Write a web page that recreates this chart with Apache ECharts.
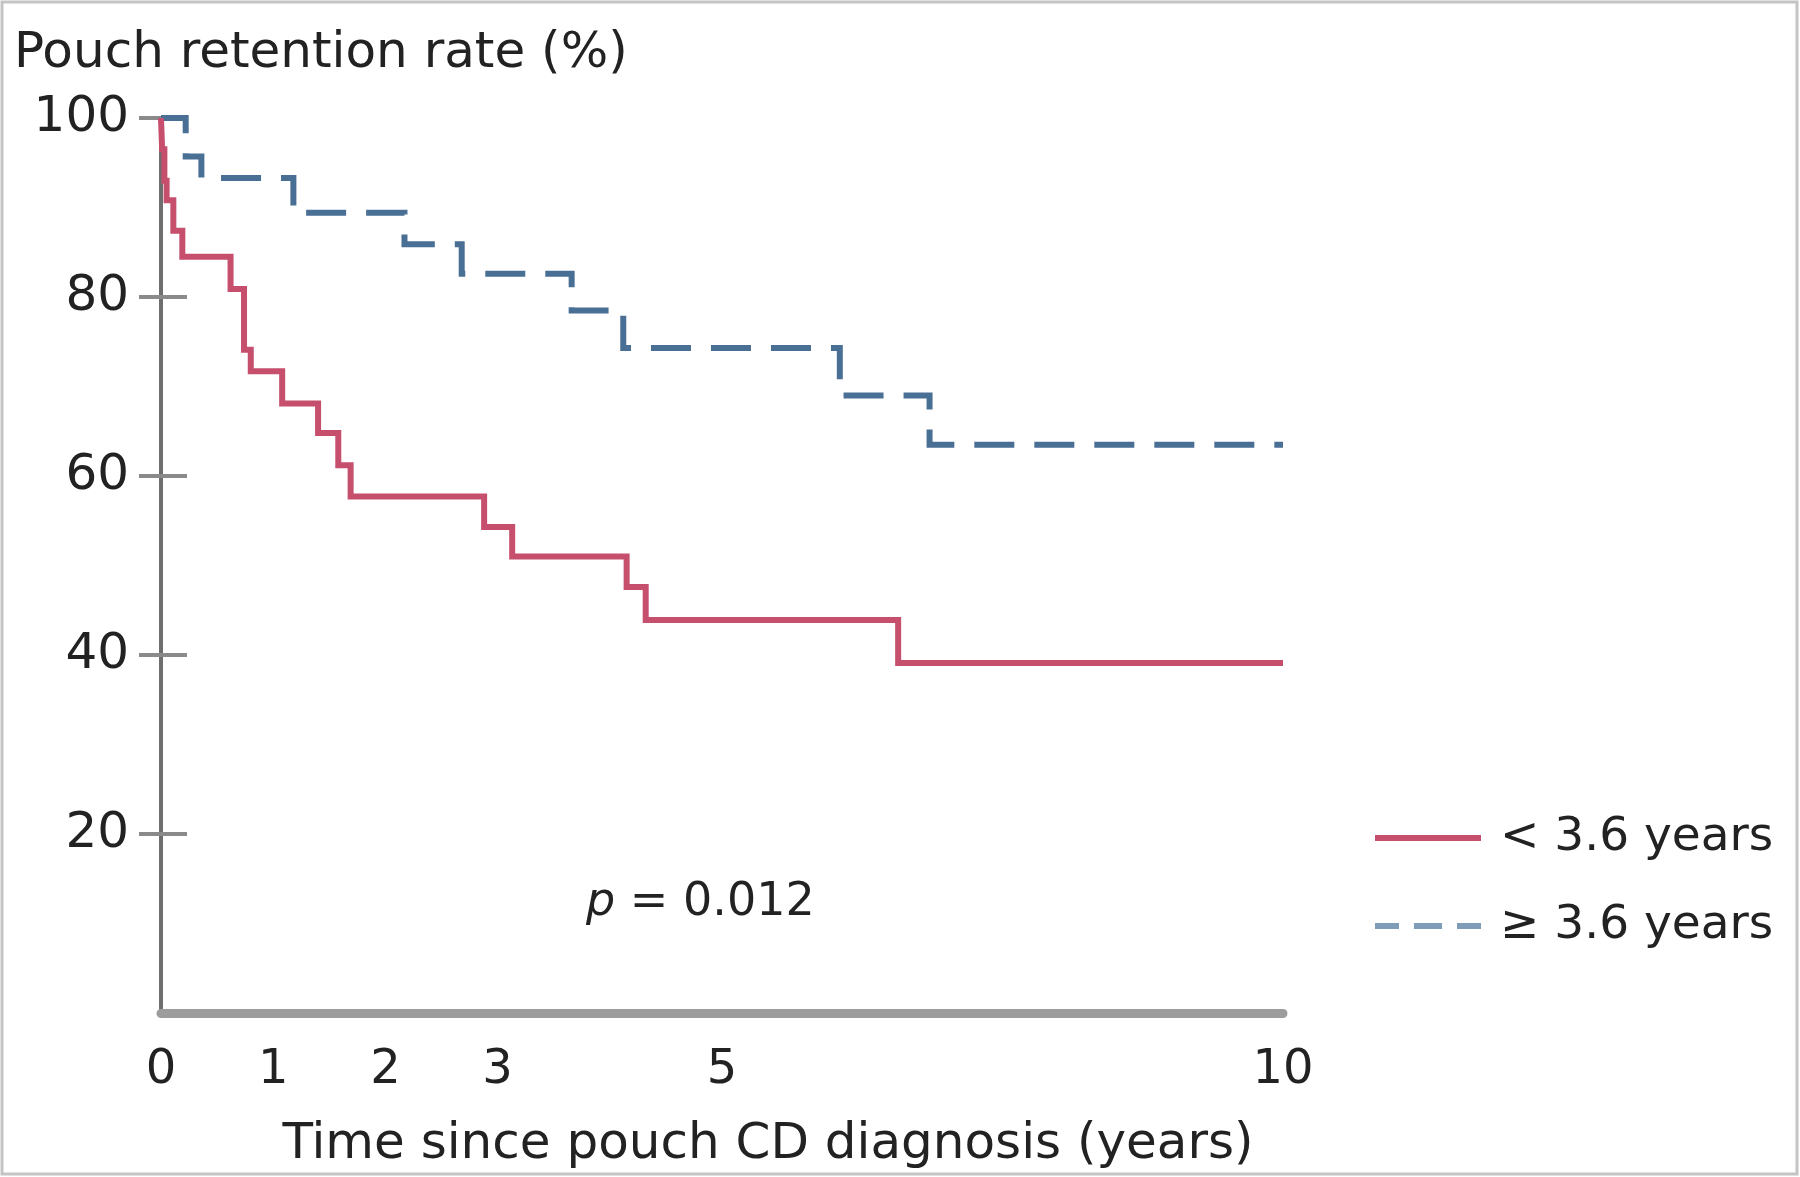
<!DOCTYPE html>
<html>
<head>
<meta charset="utf-8">
<script src="https://cdn.jsdelivr.net/npm/echarts@6/dist/echarts.min.js"></script>
<style>
html,body{margin:0;padding:0;background:#fff;}
#chart{width:1800px;height:1177px;}
</style>
</head>
<body>
<div id="chart"></div>
<script>
// Kaplan-Meier step data: [time (years), pouch retention rate (%) after event]
const seriesNames = ['< 3.6 years', '\u2265 3.6 years'];
const shortGroup = [
  [0, 100], [0.01, 96.5], [0.03, 93], [0.05, 90.8], [0.11, 87.4], [0.19, 84.5],
  [0.62, 80.9], [0.74, 74.1], [0.80, 71.7], [1.08, 68.1], [1.40, 64.8],
  [1.58, 61.2], [1.69, 57.7], [2.88, 54.3], [3.13, 51.0], [4.15, 47.6],
  [4.32, 43.9], [6.57, 39.1], [10, 39.1]
];
const longGroup = [
  [0, 100], [0.22, 95.7], [0.36, 93.3], [1.18, 89.4], [2.17, 85.9],
  [2.68, 82.6], [3.66, 78.5], [4.12, 74.3], [6.05, 69.0], [6.85, 63.5],
  [10, 63.5]
];
const xTickValues = [0, 1, 2, 3, 5, 10];
const yTickValues = [20, 40, 60, 80, 100];
const yTitle = 'Pouch retention rate (%)';
const xTitle = 'Time since pouch CD diagnosis (years)';
const pValueText = '0.012';

const FONT = 'DejaVu Sans';
const TXT = '#222222';
const RED = '#c64f6d';
const BLUE = '#4a6f95';

const chart = echarts.init(document.getElementById('chart'), null, {renderer: 'canvas'});
chart.setOption({
  backgroundColor: '#ffffff',
  animation: false,
  graphic: [{
    type: 'rect', silent: true, z: -1,
    shape: {x: 2, y: 2, width: 1795, height: 1172},
    style: {fill: 'none', stroke: '#c4c4c4', lineWidth: 3}
  }],
  title: [
    {
      text: yTitle, left: 9, top: 24,
      textStyle: {fontFamily: FONT, fontSize: 50, fontWeight: 'normal', color: TXT}
    },
    {
      text: '{i|p} = ' + pValueText, left: 581, top: 875,
      textStyle: {
        fontFamily: FONT, fontSize: 46, fontWeight: 'normal', color: TXT,
        rich: {i: {fontFamily: FONT, fontSize: 46, fontStyle: 'italic', color: TXT}}
      }
    }
  ],
  legend: {
    orient: 'vertical', left: 1370, top: 808,
    itemWidth: 106, itemHeight: 6, itemGap: 38, symbolKeepAspect: false,
    textStyle: {fontFamily: FONT, fontSize: 47, color: TXT, lineHeight: 50, padding: [0, 0, 0, 14]},
    data: [
      {name: seriesNames[0], icon: 'rect', itemStyle: {color: RED}},
      {name: seriesNames[1], icon: 'path://M0,0h24v6h-24z M39,0h28v6h-28z M82,0h24v6h-24z',
       itemStyle: {color: '#7f9cb8'}}
    ]
  },
  grid: {left: 161, right: 517, top: 118, bottom: 164, containLabel: false},
  xAxis: {
    type: 'value', min: 0, max: 10, interval: 1, offset: 6,
    axisLine: {show: true, lineStyle: {color: '#9c9c9c', width: 9}},
    axisTick: {show: false},
    splitLine: {show: false},
    axisLabel: {
      customValues: xTickValues, margin: 28,
      fontFamily: FONT, fontSize: 48, color: TXT
    },
    name: xTitle, nameLocation: 'middle', nameGap: 101,
    nameTextStyle: {fontFamily: FONT, fontSize: 50, color: TXT, padding: [0, 0, 0, 92]}
  },
  yAxis: [
    {
      type: 'value', min: 0, max: 100, interval: 20,
      axisLine: {show: true, lineStyle: {color: '#6e6e6e', width: 4}},
      axisTick: {show: true, customValues: yTickValues, length: 22, lineStyle: {color: '#8a8a8a', width: 4}},
      splitLine: {show: false},
      axisLabel: {customValues: yTickValues, margin: 32, fontFamily: FONT, fontSize: 50, color: TXT}
    },
    {
      type: 'value', min: 0, max: 100, interval: 20, position: 'left',
      axisLine: {show: false},
      axisTick: {show: true, inside: true, customValues: yTickValues, length: 26, lineStyle: {color: '#8a8a8a', width: 4}},
      splitLine: {show: false},
      axisLabel: {show: false}
    }
  ],
  series: [
    {
      name: seriesNames[0], type: 'line', step: 'end', data: shortGroup,
      showSymbol: false, symbol: 'none', z: 3,
      lineStyle: {color: RED, width: 6, type: 'solid', join: 'miter', cap: 'butt'},
      itemStyle: {color: RED}
    },
    {
      name: seriesNames[1], type: 'line', step: 'end', data: longGroup,
      showSymbol: false, symbol: 'none', z: 2,
      lineStyle: {color: BLUE, width: 6, type: [40, 20], join: 'miter', cap: 'butt'},
      itemStyle: {color: BLUE}
    }
  ]
});
</script>
</body>
</html>
